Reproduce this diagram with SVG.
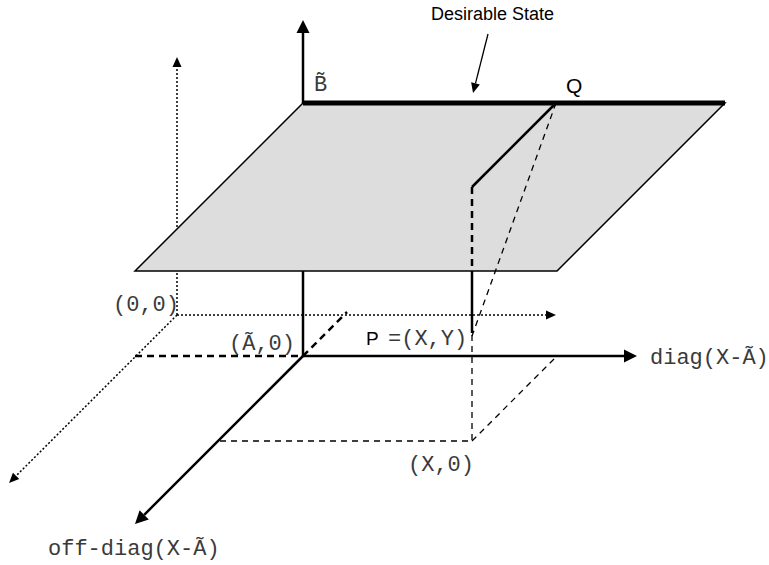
<svg xmlns="http://www.w3.org/2000/svg" width="769" height="565" viewBox="0 0 769 565">
<style>
.mono{font-family:"Liberation Mono","Courier New",monospace;font-size:22px;fill:#3a3a3a}
.sans{font-family:"Liberation Sans",Arial,sans-serif;fill:#000}
.axis{stroke:#000;stroke-width:2.5;fill:none}
.dot{stroke:#000;stroke-width:1.5;stroke-dasharray:2 2;fill:none}
.dash{stroke:#000;stroke-width:1.3;stroke-dasharray:6 5;fill:none}
.bdash{stroke:#000;stroke-width:2.5;stroke-dasharray:7 5;fill:none}
</style>
<defs>
<marker id="big" markerUnits="userSpaceOnUse" markerWidth="14" markerHeight="13" refX="0" refY="6.5" orient="auto" overflow="visible">
<path d="M0,0 L13,6.5 L0,13 z" fill="#000"/>
</marker>
<marker id="small" markerUnits="userSpaceOnUse" markerWidth="11" markerHeight="9" refX="0" refY="4.5" orient="auto" overflow="visible">
<path d="M0,0 L10,4.5 L0,9 z" fill="#000"/>
</marker>
</defs>
<g id="connectors">
<line class="dot" x1="177" y1="315" x2="177" y2="67" marker-end="url(#small)"/>
<line class="dot" x1="177" y1="315" x2="546" y2="315" marker-end="url(#small)"/>
<line class="dot" x1="177" y1="315" x2="16.1" y2="475.9" marker-end="url(#small)"/>
</g>
<g id="plane">
<polygon points="303,103 725,103 557,271 135,271" fill="#dddddd" stroke="#000" stroke-width="1.5"/>
</g>
<g id="axes">
<line class="axis" x1="303" y1="103" x2="303" y2="33" marker-end="url(#big)"/>
<line class="axis" x1="303" y1="271" x2="303" y2="356"/>
<line class="axis" x1="303" y1="356" x2="624" y2="356" marker-end="url(#big)"/>
<line class="axis" x1="303" y1="356" x2="144.2" y2="514.8" marker-end="url(#big)"/>
<line class="bdash" x1="135" y1="356" x2="303" y2="356"/>
<line class="bdash" x1="303" y1="356" x2="347" y2="312"/>
</g>
<g id="desirable-line">
<line x1="303" y1="103" x2="725" y2="103" stroke="#000" stroke-width="5"/>
</g>
<g id="projection">
<line class="axis" x1="556" y1="103" x2="472" y2="187"/>
<line class="bdash" x1="472" y1="187" x2="472" y2="271"/>
<line class="axis" x1="472" y1="271" x2="472" y2="333"/>
<line class="dash" x1="472" y1="335" x2="472" y2="441"/>
<line class="dash" x1="556" y1="103" x2="472" y2="336"/>
<line class="dash" x1="220" y1="441" x2="472" y2="441"/>
<line class="dash" x1="472" y1="441" x2="557" y2="356"/>
</g>
<g id="desirable-arrow">
<line x1="488" y1="34" x2="475.5" y2="83.3" stroke="#000" stroke-width="1.3" marker-end="url(#small)"/>
</g>
<g id="labels">
<text class="sans" x="431" y="20" font-size="18">Desirable State</text>
<text class="sans" x="566" y="93" font-size="21">Q</text>
<text class="mono" x="314" y="91" font-size="20">B&#x303;</text>
<text class="mono" x="113" y="311">(0,0)</text>
<text class="mono" x="229" y="350">(Ã,0)</text>
<text class="sans" x="366" y="345" font-size="19">P</text>
<text class="mono" x="388" y="345">=(X,Y)</text>
<text class="mono" x="650" y="364">diag(X-Ã)</text>
<text class="mono" x="408" y="471">(X,0)</text>
<text class="mono" x="48" y="555">off-diag(X-Ã)</text>
</g>
</svg>
